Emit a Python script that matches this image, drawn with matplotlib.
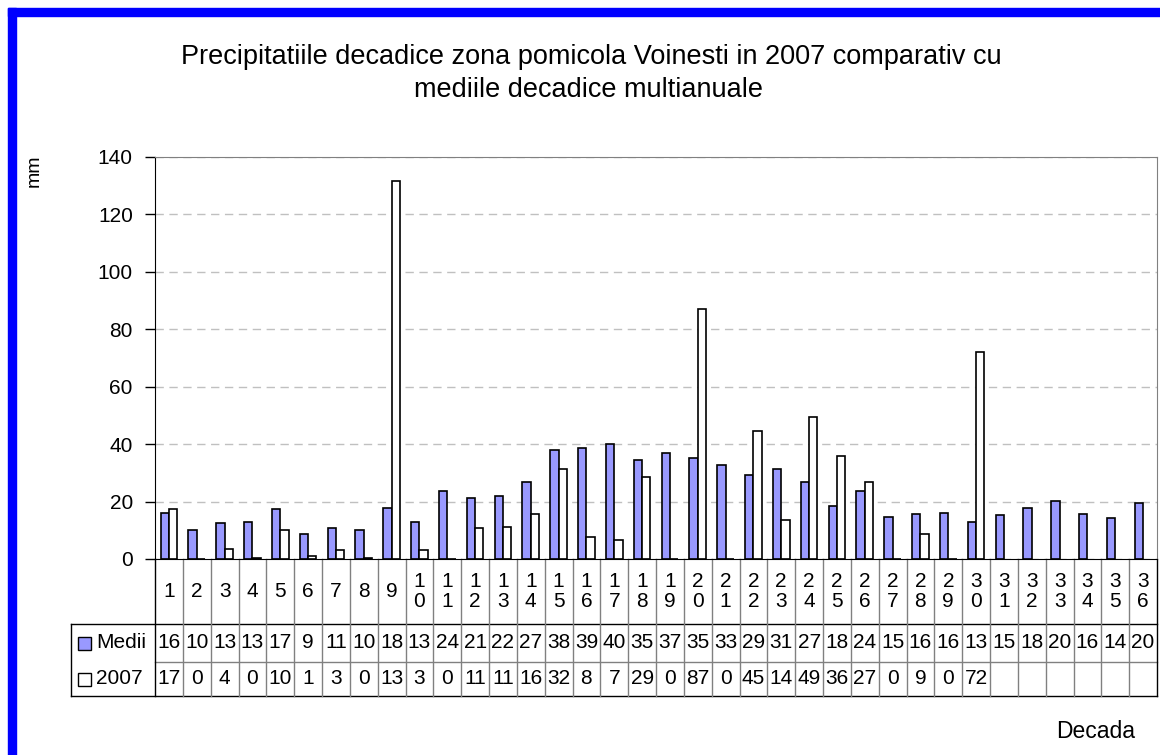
import matplotlib.pyplot as plt
from matplotlib.patches import Rectangle

decade = list(range(1, 37))
medii = [15.9, 10.1, 12.6, 13.0, 17.3, 8.6, 10.7, 10.1, 17.6, 13.0, 23.7, 21.3,
         22.0, 26.9, 38.0, 38.6, 40.0, 34.6, 37.0, 35.1, 32.7, 29.1, 31.3, 26.9,
         18.4, 23.6, 14.8, 15.6, 15.9, 13.0, 15.3, 17.8, 20.2, 15.6, 14.2, 19.6]
an2007 = [17.3, 0, 3.6, 0.4, 10.1, 1.2, 3.0, 0.4, 131.5, 3.0, 0, 10.7,
          11.3, 15.6, 31.5, 7.8, 6.6, 28.6, 0, 87.0, 0, 44.7, 13.6, 49.3,
          35.7, 26.9, 0, 8.6, 0, 72.1]
series_names = ["Medii", "2007"]
colors = ["#9999FF", "white"]
title_lines = ["Precipitatiile decadice zona pomicola Voinesti in 2007 comparativ cu",
               "mediile decadice multianuale"]

plt.rcParams["font.family"] = ["Liberation Sans", "DejaVu Sans"]
fs = 15

W, H = 1160, 755
fig = plt.figure(figsize=(W / 100, H / 100), dpi=100)

# blue frame (left and top visible)
fig.patches.append(Rectangle((8 / W, 0), 8 / W, 1 - 8 / H, transform=fig.transFigure, color="#0000FF", zorder=0))
fig.patches.append(Rectangle((8 / W, 1 - 16 / H), 1 - 8 / W, 8 / H, transform=fig.transFigure, color="#0000FF", zorder=0))

x0, x1, y0, y1 = 155, 1157, 559, 157
ax = fig.add_axes([x0 / W, 1 - y0 / H, (x1 - x0) / W, (y0 - y1) / H])

bw = 0.3
ax.bar([d - bw / 2 for d in decade], medii, width=bw, color=colors[0], edgecolor="black", linewidth=1.2, zorder=3)
ax.bar([d + bw / 2 for d in decade[:len(an2007)]], an2007, width=bw, color=colors[1], edgecolor="black", linewidth=1.2, zorder=3)

ax.set_xlim(0.5, 36.5)
ax.set_ylim(0, 140)
ax.set_yticks(range(0, 141, 20))
ax.tick_params(axis="y", labelsize=15, length=7, width=1, pad=9, color="black")
ax.set_xticks([])
ax.yaxis.grid(True, color="#C0C0C0", linestyle=(0, (6, 4)), linewidth=1, zorder=0)
for s in ["top", "right"]:
    ax.spines[s].set_color("#808080")
ax.spines["left"].set_color("black")
ax.spines["bottom"].set_color("black")
ax.spines["bottom"].set_zorder(4)

# data table under the axis
ppx = (y0 - y1)
r0 = 0
r1 = -(624 - y0) / ppx
r2 = -(662 - y0) / ppx
r3 = -(696 - y0) / ppx
unit = (x1 - x0) / 36
hx = 0.5 - (x0 - 71) / unit
tr = ax.get_xaxis_transform()
kw = dict(transform=tr, clip_on=False, linewidth=1)

ax.plot([hx, 36.5], [r1, r1], color="black", **kw)
ax.plot([0.5, 36.5], [r2, r2], color="#808080", **kw)
ax.plot([hx, 36.5], [r3, r3], color="black", **kw)
ax.plot([hx, hx], [r1, r3], color="black", **kw)
for i in range(37):
    xe = 0.5 + i
    ax.plot([xe, xe], [r0, r3], color="#808080" if 0 < i < 36 else "black", **kw)

for i, d in enumerate(decade):
    ax.text(d, (r0 + r1) / 2, "\n".join(str(d)), transform=tr, ha="center", va="center",
            fontsize=fs, linespacing=1.05)
    ax.text(d, (r1 + r2) / 2, f"{medii[i]:.0f}"[:2], transform=tr, ha="center", va="center", fontsize=fs)
    if i < len(an2007):
        ax.text(d, (r2 + r3) / 2, f"{an2007[i]:.0f}"[:2], transform=tr, ha="center", va="center", fontsize=fs)

for (ra, rb), name, c in zip([(r1, r2), (r2, r3)], series_names, colors):
    ym = (ra + rb) / 2
    ax.add_patch(Rectangle((hx + 7 / unit, ym - 6.5 / ppx), 13 / unit, 13 / ppx, transform=tr,
                           facecolor=c, edgecolor="black", linewidth=1, clip_on=False))
    ax.text(hx + 25 / unit, ym, name, transform=tr, ha="left", va="center", fontsize=15)

fig.text(591 / W, 1 - 64 / H, title_lines[0], ha="center", va="baseline", fontsize=19.5)
fig.text(589 / W, 1 - 97 / H, title_lines[1], ha="center", va="baseline", fontsize=19.5)
fig.text(34 / W, 1 - 171 / H, "mm", rotation=90, ha="center", va="center", fontsize=14)
fig.text(1096 / W, 1 - 732 / H, "Decada", ha="center", va="center", fontsize=16.5)

fig.savefig("out.png", dpi=100, facecolor="white")
